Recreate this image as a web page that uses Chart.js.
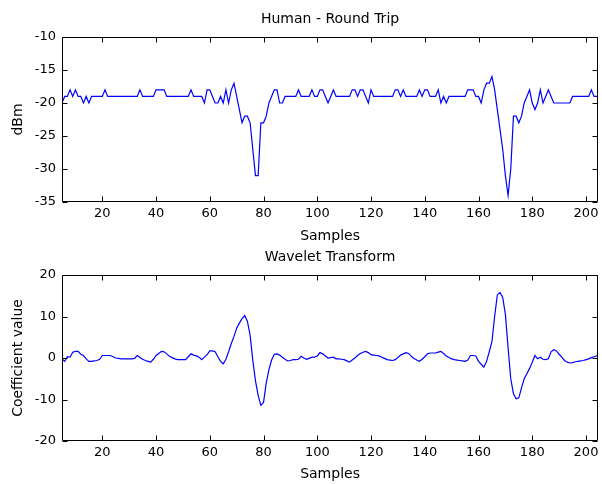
<!DOCTYPE html>
<html><head><meta charset="utf-8">
<script src="https://cdn.jsdelivr.net/npm/chart.js@4.4.1/dist/chart.umd.min.js"></script>
<style>
html,body{margin:0;padding:0;background:#fff;}
#wrap{position:relative;width:602px;height:484px;overflow:hidden;background:#fff;}
canvas{position:absolute;left:0;}
#c1{top:0;}
#c2{top:242px;}
</style></head><body>
<div id="wrap"><canvas id="c1" width="602" height="250"></canvas><canvas id="c2" width="602" height="242"></canvas></div>
<script>
// ---- data ----
const samples = [5,6,7,8,9,10,11,12,13,14,15,16,17,18,19,20,21,22,23,24,25,26,27,28,29,30,31,32,33,34,35,36,37,38,39,40,41,42,43,44,45,46,47,48,49,50,51,52,53,54,55,56,57,58,59,60,61,62,63,64,65,66,67,68,69,70,71,72,73,74,75,76,77,78,79,80,81,82,83,84,85,86,87,88,89,90,91,92,93,94,95,96,97,98,99,100,101,102,103,104,105,106,107,108,109,110,111,112,113,114,115,116,117,118,119,120,121,122,123,124,125,126,127,128,129,130,131,132,133,134,135,136,137,138,139,140,141,142,143,144,145,146,147,148,149,150,151,152,153,154,155,156,157,158,159,160,161,162,163,164,165,166,167,168,169,170,171,172,173,174,175,176,177,178,179,180,181,182,183,184,185,186,187,188,189,190,191,192,193,194,195,196,197,198,199,200,201,202,203,204,205];

const roundTrip = [
-20,-19,-19,-18,-19,-18,-19,-19,-20,-19,
-20,-19,-19,-19,-19,-19,-18,-19,-19,-19,
-19,-19,-19,-19,-19,-19,-19,-19,-19,-18,
-19,-19,-19,-19,-19,-18,-18,-18,-18,-19,
-19,-19,-19,-19,-19,-19,-19,-19,-18,-19,
-19,-19,-19,-20,-18,-18,-19,-20,-20,-19,
-20,-18,-20,-18,-17,-19,-21,-23,-22,-22,
-23,-27,-31,-31,-23,-23,-22,-20,-19,-18,
-18,-20,-20,-19,-19,-19,-19,-19,-18,-19,
-19,-19,-19,-18,-19,-19,-18,-18,-19,-20,
-19,-18,-19,-19,-19,-19,-19,-19,-18,-18,
-19,-18,-18,-19,-20,-18,-19,-19,-19,-19,
-19,-19,-19,-19,-18,-18,-19,-18,-19,-19,
-19,-19,-19,-18,-19,-18,-18,-19,-19,-19,
-18,-20,-19,-20,-19,-19,-19,-19,-19,-19,
-19,-18,-18,-18,-19,-19,-20,-18,-17,-17,
-16,-18,-21,-24,-27,-31,-34,-30,-22,-22,
-23,-22,-20,-19,-18,-20,-21,-20,-18,-20,
-19,-18,-19,-20,-20,-20,-20,-20,-20,-20,
-19,-19,-19,-19,-19,-19,-19,-18,-19,-19,
-19];

const wavelet = [
-0.2,-0.8,0.3,0.2,1.4,1.6,1.6,0.9,0.6,-0.2,
-0.8,-0.8,-0.7,-0.6,-0.3,0.6,0.6,0.6,0.6,0.3,
0,-0.1,-0.2,-0.2,-0.2,-0.2,-0.2,-0.1,0.6,0.1,
-0.3,-0.6,-0.8,-1.0,-0.3,0.6,1.1,1.6,1.5,1.0,
0.4,0.1,-0.2,-0.4,-0.4,-0.4,-0.4,0.3,1.0,0.7,
0.5,0.2,-0.4,0.2,0.8,1.7,1.7,1.5,0.3,-0.8,
-1.4,-0.3,1.5,3.5,5.2,7.2,8.4,9.5,10.2,8.8,
5.5,-0.5,-5.5,-9.0,-11.4,-10.7,-6.0,-2.8,-0.5,0.9,
1.0,0.7,0.2,-0.3,-0.7,-0.6,-0.4,-0.4,-0.3,0.4,
0.0,-0.3,-0.1,0.2,0.2,0.5,1.3,1.0,0.5,0.0,
0.1,0.2,-0.2,-0.2,-0.3,-0.4,-0.7,-1.0,-0.5,0.0,
0.6,1.1,1.4,1.6,1.3,0.8,0.7,0.6,0.5,0.2,
-0.1,-0.4,-0.5,-0.6,-0.4,0.1,0.7,1.0,1.3,1.1,
0.4,-0.1,-0.5,-0.8,-0.3,0.3,1.0,1.2,1.2,1.2,
1.4,1.6,1.1,0.5,0.1,-0.2,-0.4,-0.5,-0.6,-0.7,
-0.8,-0.5,0.6,0.6,0.5,-0.8,-1.5,-2.2,-0.8,1.5,
4.0,10.0,15.2,15.8,14.6,10.5,2.5,-5.0,-8.6,-9.8,
-9.6,-7.2,-5.0,-3.8,-2.5,-1.0,0.6,-0.2,0.2,-0.3,
-0.4,-0.2,1.5,2.0,1.7,0.9,0.2,-0.6,-1.0,-1.2,
-1.1,-0.9,-0.8,-0.7,-0.6,-0.4,-0.2,0.1,0.3,0.5,
0.6];

const topTitle = 'Human - Round Trip';
const bottomTitle = 'Wavelet Transform';
const xLabel = 'Samples';
const topYLabel = 'dBm';
const bottomYLabel = 'Coefficient value';

// ---- rendering ----
Chart.defaults.font.family = '"DejaVu Sans", Verdana, sans-serif';
Chart.defaults.font.size = 13;
Chart.defaults.color = '#000';

const boxTicks = {
  id: 'boxTicks',
  afterDraw(chart) {
    const {ctx, chartArea: a, scales} = chart;
    const x = scales.x, y = scales.y;
    const L = Math.round(a.left) + 0.5, R = Math.round(a.right) - 0.5;
    const T = Math.round(a.top) + 0.5, B = Math.round(a.bottom) - 0.5;
    const tl = 5;
    ctx.save();
    ctx.strokeStyle = '#000';
    ctx.lineWidth = 1;
    ctx.beginPath();
    ctx.rect(L, T, R - L, B - T);
    x.ticks.forEach(t => {
      const p = Math.round(x.getPixelForValue(t.value)) + 0.5;
      ctx.moveTo(p, B); ctx.lineTo(p, B - tl);
      ctx.moveTo(p, T); ctx.lineTo(p, T + tl);
    });
    y.ticks.forEach(t => {
      const p = Math.round(y.getPixelForValue(t.value)) + 0.5;
      ctx.moveTo(L, p); ctx.lineTo(L + tl, p);
      ctx.moveTo(R, p); ctx.lineTo(R - tl, p);
    });
    ctx.stroke();
    ctx.restore();
  }
};

function makeChart(id, values, cfg) {
  return new Chart(document.getElementById(id), {
    type: 'line',
    data: {
      datasets: [{
        data: samples.map((s, i) => ({x: s, y: values[i]})),
        borderColor: '#0000ff',
        borderWidth: 1.2,
        pointRadius: 0,
        tension: 0,
        fill: false
      }]
    },
    options: {
      responsive: false,
      animation: false,
      devicePixelRatio: 1,
      layout: {padding: {left: 0, right: 0.5, top: 0, bottom: 0}},
      plugins: {
        legend: {display: false},
        tooltip: {enabled: false},
        title: {
          display: true, text: cfg.title, color: '#000', fullSize: false,
          font: {size: 14, weight: 'normal'},
          padding: {top: cfg.titleTop, bottom: cfg.titleBottom}
        }
      },
      scales: {
        x: {
          type: 'linear', min: 5, max: 204.5,
          grid: {display: false, drawTicks: false},
          border: {display: false},
          ticks: {stepSize: 20, includeBounds: false, padding: cfg.xTickPad, maxRotation: 0, autoSkip: false},
          title: {display: true, text: xLabel, font: {size: 14}, padding: {top: 0, bottom: cfg.xTitleBottom}},
          afterFit(s) { s.height = cfg.xHeight; }
        },
        y: {
          type: 'linear', min: cfg.yMin, max: cfg.yMax,
          grid: {display: false, drawTicks: false},
          border: {display: false},
          ticks: {stepSize: cfg.yStep, padding: 6},
          title: {display: true, text: cfg.yTitle, font: {size: 14}, padding: {top: 9.6, bottom: 0}},
          afterFit(s) { s.width = 62; }
        }
      }
    },
    plugins: [boxTicks]
  });
}

makeChart('c1', roundTrip, {
  title: topTitle, titleTop: 10.6, titleBottom: 9.6,
  yMin: -35, yMax: -10, yStep: 5, yTitle: topYLabel,
  xHeight: 48, xTickPad: 3.5, xTitleBottom: 5.6
});
makeChart('c2', wavelet, {
  title: bottomTitle, titleTop: 6.6, titleBottom: 9.6,
  yMin: -20, yMax: 20, yStep: 10, yTitle: bottomYLabel,
  xHeight: 43, xTickPad: 3.5, xTitleBottom: 1.6
});
</script>
</body></html>
